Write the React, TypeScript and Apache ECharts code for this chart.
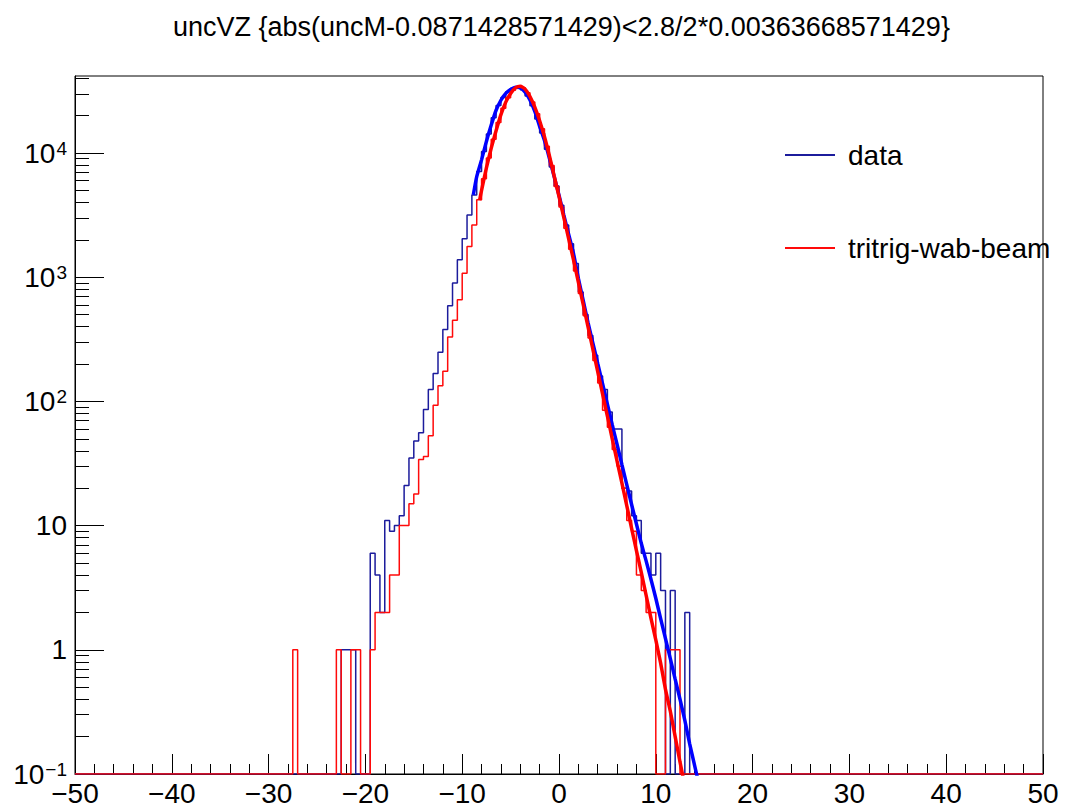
import React, { useEffect, useRef } from 'react';
import * as echarts from 'echarts';

const TITLE = 'uncVZ {abs(uncM-0.0871428571429)<2.8/2*0.00363668571429}';
const BIN_WIDTH = 0.5;
const X_MIN = -50;
const X_MAX = 50;
const Y_MIN = 0.1;
const Y_MAX = 41700;

// data histogram (blue), first bin left edge = dataStart
const dataStart = -22.5;
const dataCounts = [
  1, 1, 1, 0, 0, 0, 6, 4, 2, 11,
  9, 10, 12, 21, 35, 48, 56, 86, 125, 168,
  249, 379, 590, 898, 1380, 2040, 3170, 4600, 7100, 10300,
  14200, 19200, 24100, 28000, 31200, 33200, 34000, 32300, 28800, 24000,
  18800, 14500, 10700, 7700, 5430, 3800, 2630, 1860, 1290, 760,
  500, 340, 235, 160, 125, 82, 60, 60, 20, 19,
  12, 11, 6, 6, 4, 6, 3, 0, 3, 0,
  0, 2,
];

// MC histogram (red), first bin left edge = mcStart
const mcStart = -27.5;
const mcCounts = [
  1, 0, 0, 0, 0, 0, 0, 0, 0, 1,
  0, 0, 1, 1, 0, 0, 1, 2, 2, 2,
  4, 4, 10, 10, 15, 18, 34, 36, 53, 93,
  134, 175, 330, 450, 660, 1075, 1770, 2630, 4200, 6200,
  9100, 12900, 17600, 22900, 27900, 32000, 34000, 33600, 30500, 25700,
  20700, 15700, 11350, 7940, 5370, 3670, 2480, 1680, 1120, 740,
  490, 324, 214, 141, 85, 62, 41, 30, 20, 11,
  9, 4, 3, 2, 2, 0, 0, 1, 1, 1,
];

// fitted curve to data (blue)
const fitDataX = [
  -8.85, -8.5, -8, -7.5, -7, -6.5, -6, -5.5, -5, -4.5, -4, -3.5, -3, -2.5, -2, -1.5, -1, -0.5,
  0, 0.5, 1, 1.5, 2, 2.5, 3, 3.5, 4, 4.5, 5, 5.5, 6, 6.5, 7, 7.5, 8, 8.5, 9, 9.5, 10, 10.5,
  11, 11.5, 12, 12.5, 13, 13.5, 14, 14.5,
];
const fitDataY = [
  4600, 6450, 8810, 12400, 16800, 22100, 26600, 30200, 32500, 33900, 33600, 30900, 26700, 21600, 16400, 12600, 9120, 6460,
  4570, 3160, 2210, 1550, 980, 650, 430, 295, 202, 139, 95, 65, 45, 31, 21.4, 14.8, 10.3, 7.2, 5.2, 3.7, 2.6, 1.78,
  1.23, 0.85, 0.58, 0.4, 0.27, 0.175, 0.118, 0.08,
];

// fitted curve to MC (red)
const fitMcX = [
  -8.2, -8, -7.5, -7, -6.5, -6, -5.5, -5, -4.5, -4, -3.5, -3, -2.5, -2, -1.5, -1, -0.5,
  0, 0.5, 1, 1.5, 2, 2.5, 3, 3.5, 4, 4.5, 5, 5.5, 6, 6.5, 7, 7.5, 8, 8.5, 9, 9.5, 10, 10.5,
  11, 11.5, 12, 12.5, 13,
];
const fitMcY = [
  4170, 5010, 7590, 10960, 15140, 20400, 25700, 30200, 33500, 34500, 32700, 28500, 23400, 18200, 13500, 9550, 6530,
  4470, 3020, 2040, 1380, 912, 603, 398, 263, 174, 115, 76, 50, 33, 22, 14.5, 9.5, 6.3, 4.2, 2.75, 1.8, 1.2, 0.78,
  0.48, 0.32, 0.2, 0.125, 0.08,
];

const yMajorTicks = [0.1, 1, 10, 100, 1000, 10000];
const yMinorMultipliers = [2, 3, 4, 5, 6, 7, 8, 9];

const DATA_HIST_COLOR = '#1c1c9c';
const MC_HIST_COLOR = '#ff0a0a';
const DATA_FIT_COLOR = '#0000ff';
const MC_FIT_COLOR = '#ff0000';
const FONT = "'Liberation Sans', Arial, Helvetica, sans-serif";

function histPoints(start: number, counts: number[]): number[][] {
  const nBins = Math.round((X_MAX - X_MIN) / BIN_WIDTH);
  const pts: number[][] = [];
  let last = Y_MIN;
  for (let i = 0; i < nBins; i++) {
    const lo = X_MIN + i * BIN_WIDTH;
    const k = Math.round((lo - start) / BIN_WIDTH);
    const c = k >= 0 && k < counts.length ? counts[k] : 0;
    last = c > 0 ? c : Y_MIN;
    pts.push([lo, last]);
  }
  pts.push([X_MAX, last]);
  return pts;
}

function zip(xs: number[], ys: number[]): number[][] {
  return xs.map((x, i) => [x, ys[i]]);
}

function yMinorValues(): number[] {
  const out: number[] = [];
  yMajorTicks.forEach((d) => {
    yMinorMultipliers.forEach((m) => {
      const v = parseFloat((m * d).toPrecision(6));
      if (v < Y_MAX) out.push(v);
    });
  });
  return out;
}

function yLabel(v: number): string {
  const e = Math.round(Math.log10(v));
  if (e === 0) return '1';
  if (e === 1) return '10';
  const exp = e < 0 ? '\u2212' + Math.abs(e) : String(e);
  return '10{sup|' + exp + '}';
}

export default function App() {
  const ref = useRef<HTMLDivElement>(null);

  useEffect(() => {
    if (!ref.current) return;
    const chart = echarts.init(ref.current, undefined, { renderer: 'svg' });
    const option: any = {
      animation: false,
      backgroundColor: '#ffffff',
      title: {
        text: TITLE,
        left: 168,
        top: 8,
        textStyle: {
          fontFamily: FONT,
          fontSize: 27,
          fontWeight: 'normal',
          color: '#000',
        },
      },
      legend: {
        data: ['data', 'tritrig-wab-beam'],
        orient: 'vertical',
        left: 780,
        top: 134,
        itemWidth: 50,
        itemHeight: 2,
        itemGap: 61,
        icon: 'rect',
        textStyle: {
          fontFamily: FONT,
          fontSize: 28,
          lineHeight: 32,
          color: '#000',
          padding: [0, 0, 0, 8],
        },
      },
      grid: {
        left: 75,
        right: 25,
        top: 76,
        bottom: 32,
        show: true,
        borderColor: '#000',
        borderWidth: 1,
        backgroundColor: 'transparent',
      },
      xAxis: {
        type: 'value',
        min: X_MIN,
        max: X_MAX,
        interval: 10,
        axisLine: { show: true, onZero: false, lineStyle: { color: '#000', width: 1 } },
        axisTick: { show: true, inside: true, length: 20, lineStyle: { color: '#000', width: 1 } },
        minorTick: { show: true, splitNumber: 5, length: 10, lineStyle: { color: '#000', width: 1 } },
        splitLine: { show: false },
        axisLabel: {
          fontFamily: FONT,
          fontSize: 28,
          color: '#000',
          margin: 5,
          formatter: (v: number) => (v < 0 ? '\u2212' + Math.abs(v) : String(v)),
        },
      },
      yAxis: [
        {
          type: 'log',
          logBase: 10,
          min: Y_MIN,
          max: Y_MAX,
          position: 'left',
          axisLine: { show: true, onZero: false, lineStyle: { color: '#000', width: 1 } },
          axisTick: {
            show: true,
            inside: true,
            length: 29,
            customValues: yMajorTicks,
            lineStyle: { color: '#000', width: 1 },
          },
          splitLine: { show: false },
          axisLabel: {
            customValues: yMajorTicks,
            fontFamily: FONT,
            fontSize: 28,
            color: '#000',
            margin: 8,
            formatter: yLabel,
            rich: {
              sup: { fontFamily: FONT, fontSize: 19, verticalAlign: 'top', lineHeight: 19, padding: [0, 0, 0, 1] },
            },
          },
        },
        {
          type: 'log',
          logBase: 10,
          min: Y_MIN,
          max: Y_MAX,
          position: 'left',
          axisLine: { show: false, onZero: false },
          axisTick: {
            show: true,
            inside: true,
            length: 14,
            customValues: yMinorValues(),
            lineStyle: { color: '#000', width: 1 },
          },
          axisLabel: { show: false },
          splitLine: { show: false },
        },
      ],
      series: [
        {
          name: 'data',
          type: 'line',
          step: 'end',
          data: histPoints(dataStart, dataCounts),
          symbol: 'none',
          color: DATA_HIST_COLOR,
          lineStyle: { color: DATA_HIST_COLOR, width: 1.5 },
          z: 2,
        },
        {
          name: 'tritrig-wab-beam',
          type: 'line',
          step: 'end',
          data: histPoints(mcStart, mcCounts),
          symbol: 'none',
          color: MC_HIST_COLOR,
          lineStyle: { color: MC_HIST_COLOR, width: 1.5 },
          z: 3,
        },
        {
          name: 'data fit',
          type: 'line',
          smooth: 0.2,
          data: zip(fitDataX, fitDataY),
          symbol: 'none',
          color: DATA_FIT_COLOR,
          lineStyle: { color: DATA_FIT_COLOR, width: 3.5 },
          z: 4,
        },
        {
          name: 'mc fit',
          type: 'line',
          smooth: 0.2,
          data: zip(fitMcX, fitMcY),
          symbol: 'none',
          color: MC_FIT_COLOR,
          lineStyle: { color: MC_FIT_COLOR, width: 3.5 },
          z: 5,
        },
      ],
    };
    chart.setOption(option);
    return () => {
      chart.dispose();
    };
  }, []);

  return (
    <div
      ref={ref}
      style={{ position: 'absolute', left: 0, top: 0, width: 1068, height: 807, background: '#fff' }}
    />
  );
}
